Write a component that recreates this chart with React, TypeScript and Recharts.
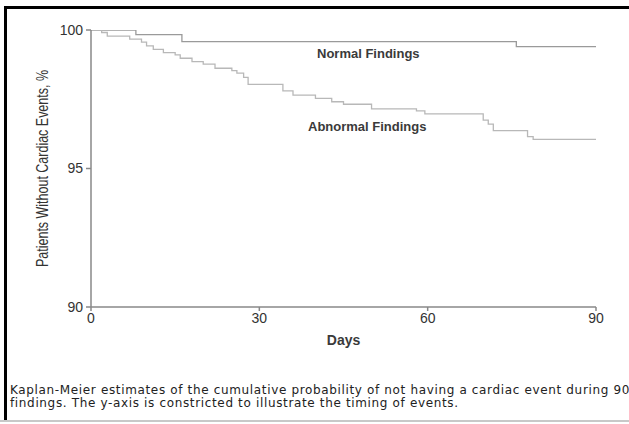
import React from 'react';
import { LineChart, Line, XAxis, YAxis, Label } from 'recharts';

// Kaplan-Meier steps
const normalDays = [0, 8, 16.2, 75.8, 90];
const normalPct = [100, 99.83, 99.58, 99.4, 99.4];

const abnormalDays = [
  0, 1.9, 2.9, 6.9, 9.0, 9.9, 11.1, 12.9, 15.0, 15.9, 18.0, 20.0, 22.1, 25.1, 26.0, 27.2, 28.0,
  34.2, 36.0, 40.0, 42.9, 45.0, 50.0, 58.0, 59.5, 69.9, 70.8, 71.7, 77.8, 78.8, 90,
];
const abnormalPct = [
  100, 99.91, 99.78, 99.67, 99.56, 99.43, 99.3, 99.18, 99.1, 98.98, 98.86, 98.77, 98.62, 98.53, 98.44, 98.29, 98.04,
  97.8, 97.65, 97.53, 97.41, 97.32, 97.15, 97.08, 96.97, 96.75, 96.6, 96.37, 96.15, 96.05, 96.05,
];

const xTicks = [0, 30, 60, 90];
const yTicks = [90, 95, 100];

const captionLines = [
  'Kaplan-Meier estimates of the cumulative probability of not having a cardiac event during 90',
  'findings. The y-axis is constricted to illustrate the timing of events.',
];

const normalData = normalDays.map((day, i) => ({ day, pct: normalPct[i] }));
const abnormalData = abnormalDays.map((day, i) => ({ day, pct: abnormalPct[i] }));

const FONT = "'Liberation Sans', Arial, sans-serif";
const axisFont = { fontFamily: FONT, fontSize: 14, fill: '#333' };

const YTitle = (props: any) => {
  const { viewBox } = props;
  const cx = 42;
  const cy = viewBox.y + viewBox.height / 2;
  return (
    <text
      x={cx}
      y={cy}
      transform={`rotate(-90 ${cx} ${cy})`}
      textAnchor="middle"
      dominantBaseline="central"
      textLength={197}
      lengthAdjust="spacingAndGlyphs"
      style={{ fontFamily: FONT, fontSize: 16, fill: '#333' }}
    >
      Patients Without Cardiac Events, %
    </text>
  );
};

export default function App() {
  return (
    <div style={{ position: 'absolute', left: 0, top: 0, width: 629, height: 424, background: '#fff', overflow: 'hidden' }}>
      <div style={{ position: 'absolute', left: 4, top: 6, width: 625, height: 3, background: '#000' }} />
      <div style={{ position: 'absolute', left: 4, top: 6, width: 3, height: 415, background: '#000' }} />
      <div style={{ position: 'absolute', left: 0, top: 420, width: 629, height: 2, background: '#c8c8c8' }} />
      <div style={{ position: 'absolute', left: 0, top: 0 }}>
        <LineChart width={629} height={360} margin={{ top: 30, right: 33, bottom: 8, left: 0 }}>
          <XAxis
            type="number"
            dataKey="day"
            domain={[0, 90]}
            ticks={xTicks}
            allowDataOverflow
            height={45}
            stroke="#888"
            strokeWidth={1.5}
            tickSize={4}
            tickMargin={2}
            tick={axisFont}
          >
            <Label
              value="Days"
              position="insideBottom"
              offset={7}
              style={{ fontFamily: FONT, fontSize: 14, fontWeight: 'bold', fill: '#3a3a3a' }}
            />
          </XAxis>
          <YAxis
            type="number"
            domain={[90, 100]}
            ticks={yTicks}
            allowDataOverflow
            width={91}
            stroke="#888"
            strokeWidth={1.5}
            tickSize={5}
            tickMargin={3}
            tick={axisFont}
          >
            <Label content={<YTitle />} />
          </YAxis>
          <Line
            data={normalData}
            dataKey="pct"
            type="stepAfter"
            stroke="#9a9a9a"
            strokeWidth={1.3}
            dot={false}
            isAnimationActive={false}
          />
          <Line
            data={abnormalData}
            dataKey="pct"
            type="stepAfter"
            stroke="#b8b8b8"
            strokeWidth={1.3}
            dot={false}
            isAnimationActive={false}
          />
        </LineChart>
      </div>
      <div style={{ position: 'absolute', left: 317, top: 46, fontFamily: FONT, fontSize: 13, fontWeight: 'bold', color: '#3a3a3a' }}>
        Normal Findings
      </div>
      <div style={{ position: 'absolute', left: 308, top: 119, fontFamily: FONT, fontSize: 13, fontWeight: 'bold', color: '#3a3a3a' }}>
        Abnormal Findings
      </div>
      <div style={{ position: 'absolute', left: 10, top: 384, fontFamily: "'DejaVu Sans', Verdana, sans-serif", fontSize: 12, letterSpacing: 0.65, lineHeight: '13px', color: '#222', whiteSpace: 'nowrap' }}>
        {captionLines.map((l, i) => (
          <div key={i}>{l}</div>
        ))}
      </div>
    </div>
  );
}
